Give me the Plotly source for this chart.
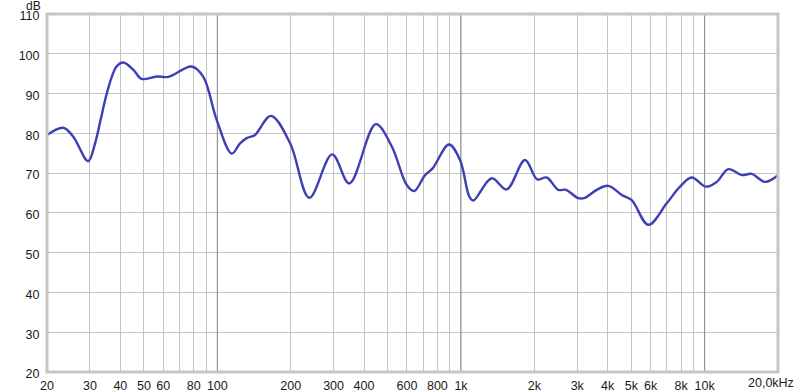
import plotly.graph_objects as go

freq_hz = [20, 23.3, 25.6, 29.5, 31.5, 33.2, 34.9, 36.9, 38.6, 41.1, 45.2, 48.9, 56.4, 62.9,
           78.5, 87.6, 99.4,
           114.6, 124, 132, 142.8, 166, 199, 238.6, 296, 348, 447, 520, 599, 643, 712, 765,
           893, 991, 1082, 1124, 1337, 1540, 1831, 2056, 2248, 2508, 2698, 3030, 3228, 3606,
           4024, 4568, 5020, 5872, 6988, 7922, 8846, 10128, 11208, 12510, 14192, 15596,
           17686, 20000]
level_db = [79.6, 81.4, 79.2, 73.0, 77.5, 83.4, 89.2, 94.2, 96.8, 97.8, 96.0, 93.7, 94.3, 94.2,
            96.8, 94.2, 83.4,
            74.9, 77.5, 78.8, 79.6, 84.4, 77.5, 63.8, 74.7, 67.4, 82.3, 76.7, 67.0, 65.5, 69.5, 71.2,
            77.2, 73.3, 64.1, 63.1, 68.7, 65.9, 73.3, 68.4, 68.9, 65.8, 65.8, 63.7, 63.8, 65.8,
            66.8, 64.5, 63.2, 57.0, 62.4, 66.6, 68.9, 66.6, 67.8, 71.0, 69.5, 69.8,
            67.8, 69.5]

tick_vals = [20, 30, 40, 50, 60, 80, 100, 200, 300, 400, 600, 800, 1000, 2000, 3000, 4000,
             5000, 6000, 8000, 10000]
tick_text = ["20", "30", "40", "50", "60", "80", "100", "200", "300", "400", "600", "800", "1k",
             "2k", "3k", "4k", "5k", "6k", "8k", "10k"]
end_label = "20,0kHz"
minor_grid = [70, 90, 500, 700, 900, 7000, 9000]
major_grid = [100, 1000, 10000]
y_ticks = [20, 30, 40, 50, 60, 70, 80, 90, 100, 110]

fig = go.Figure()
for g in major_grid:
    fig.add_trace(go.Scatter(x=[g, g], y=[20, 110], mode="lines",
                             line=dict(color="#8a8a8a", width=1), hoverinfo="skip",
                             showlegend=False))
fig.add_trace(go.Scatter(x=freq_hz, y=level_db, mode="lines",
                         line=dict(color="#3f3fb4", width=2.4, shape="spline", smoothing=1.0),
                         showlegend=False))

font = dict(family="Liberation Sans, Arial, sans-serif", size=12.5, color="#1a1a1a")
fig.update_layout(
    width=800, height=392,
    margin=dict(l=47, r=22, t=14, b=20),
    paper_bgcolor="white", plot_bgcolor="white",
    font=font,
    xaxis=dict(type="log", range=[1.30103, 4.30103], tickvals=tick_vals, ticktext=tick_text,
               showgrid=True, gridcolor="#c4c4c4", gridwidth=1, zeroline=False,
               ticks="outside", ticklen=2, tickcolor="rgba(0,0,0,0)", showline=False,
               automargin=False,
               minor=dict(tickvals=minor_grid, showgrid=True, gridcolor="#c4c4c4", gridwidth=1,
                          ticks="")),
    yaxis=dict(range=[20, 110], tickvals=y_ticks, showgrid=True, gridcolor="#c4c4c4",
               gridwidth=1, zeroline=False, ticks="outside", ticklen=4,
               tickcolor="rgba(0,0,0,0)", showline=False, automargin=False,
               ticklabelshift=2),
    shapes=[dict(type="rect", xref="paper", yref="paper", x0=0, x1=1, y0=0, y1=1,
                 line=dict(color="#c6c6c6", width=3), layer="above")],
    annotations=[
        dict(text="dB", xref="paper", yref="paper", x=-0.007, y=1.0, xanchor="right",
             yanchor="bottom", showarrow=False, font=dict(family=font["family"], size=12,
                                                           color=font["color"]),
             yshift=0, borderpad=0),
        dict(text=end_label, xref="paper", yref="paper", x=(771 - 47) / 731, y=0,
             xanchor="center", yanchor="top", showarrow=False, font=font, yshift=-2),
    ],
)
fig.write_html("out.html")
